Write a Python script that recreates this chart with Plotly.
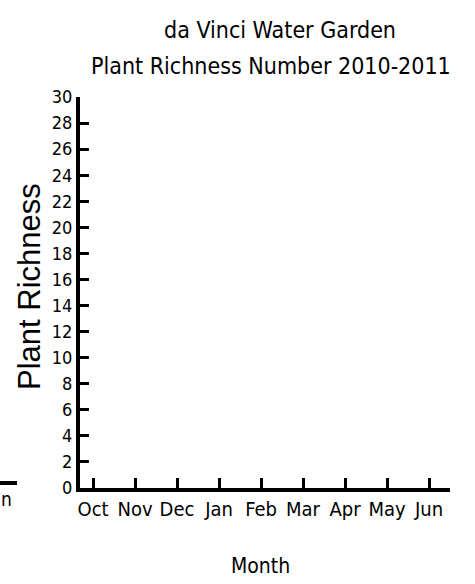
import plotly.graph_objects as go

months = ["Oct", "Nov", "Dec", "Jan", "Feb", "Mar", "Apr", "May", "Jun"]
richness = [None] * len(months)  # no values plotted in the reference
y_ticks = list(range(0, 31, 2))

title_lines = ["da Vinci Water Garden", "Plant Richness Number 2010-2011"]
y_title = "Plant Richness"
x_title = "Month"

NARROW = "DejaVu Sans Condensed, Liberation Sans Narrow, sans-serif"
ARIAL = "Liberation Sans, Arial, sans-serif"

L, R, T, B = 80, 25, 97, 96
W, H = 475, 584
PW, PH = W - L - R, H - T - B


def px(x):
    return (x - L) / PW


def py(y):
    return (H - B - y) / PH


fig = go.Figure()
fig.add_trace(go.Scatter(x=months, y=richness, mode="markers",
                         marker=dict(color="black"), showlegend=False,
                         hoverinfo="skip"))

fig.update_layout(
    width=W, height=H,
    paper_bgcolor="white", plot_bgcolor="white",
    margin=dict(l=L, r=R, t=T, b=B, autoexpand=False),
    showlegend=False,
    hovermode=False,
    xaxis=dict(
        type="category", categoryorder="array", categoryarray=months,
        range=[-0.31, 8.5], automargin=False, fixedrange=True,
        showline=True, linecolor="black", linewidth=4,
        ticks="inside", ticklen=10, tickwidth=3, tickcolor="black",
        showgrid=False, zeroline=False,
        tickfont=dict(family=NARROW, size=20, color="black"),
    ),
    yaxis=dict(
        range=[0, 30], tickvals=y_ticks, ticktext=[str(v) for v in y_ticks],
        automargin=False, fixedrange=True,
        showline=True, linecolor="black", linewidth=4,
        ticks="inside", ticklen=9, tickwidth=3, tickcolor="black",
        showgrid=False, zeroline=False,
        ticklabelstandoff=0,
        tickfont=dict(family=NARROW, size=18, color="black"),
    ),
)

# title lines
fig.add_annotation(text=title_lines[0], xref="paper", yref="paper",
                   x=px(280), y=py(30), xanchor="center", yanchor="middle",
                   showarrow=False, font=dict(family=NARROW, size=23, color="black"))
fig.add_annotation(text=title_lines[1], xref="paper", yref="paper",
                   x=px(271), y=py(66), xanchor="center", yanchor="middle",
                   showarrow=False, font=dict(family=NARROW, size=23, color="black"))
# axis titles
fig.add_annotation(text=y_title, xref="paper", yref="paper",
                   x=px(29), y=py(287), xanchor="center", yanchor="middle",
                   textangle=-90, showarrow=False,
                   font=dict(family=ARIAL, size=31, color="black"))
fig.add_annotation(text=x_title, xref="paper", yref="paper",
                   x=px(260), y=py(566), xanchor="center", yanchor="middle",
                   showarrow=False, font=dict(family=NARROW, size=21, color="black"))

# fragment of a neighbouring chart at the left edge of the scan
fig.add_shape(type="line", xref="paper", yref="paper",
              x0=px(0), x1=px(17), y0=py(483), y1=py(483),
              line=dict(color="black", width=4))
fig.add_annotation(text="n", xref="paper", yref="paper", x=px(0), y=py(499),
                   xanchor="left", yanchor="middle", showarrow=False,
                   borderpad=0,
                   font=dict(family=NARROW, size=19, color="black"))

fig.write_html("out.html",
               config={"displayModeBar": False, "staticPlot": True},
               post_script="document.body.style.margin='0';document.body.style.overflow='hidden';")
